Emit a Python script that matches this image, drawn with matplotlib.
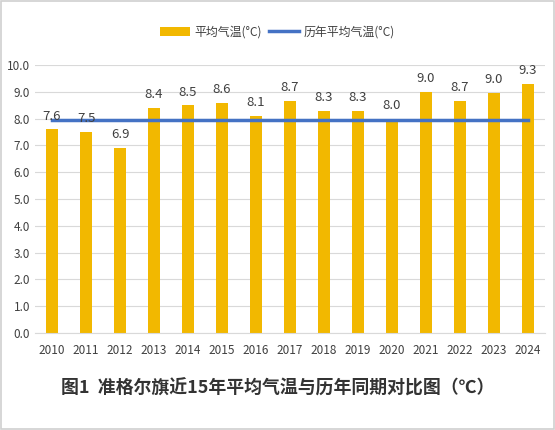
import matplotlib

matplotlib.use("Agg")
import matplotlib.pyplot as plt
from matplotlib.patches import Rectangle

plt.rcParams["font.family"] = ["Noto Sans CJK SC", "DejaVu Sans"]

years = ["2010", "2011", "2012", "2013", "2014", "2015", "2016", "2017",
         "2018", "2019", "2020", "2021", "2022", "2023", "2024"]
avg_temp = [7.6, 7.5, 6.9, 8.4, 8.5, 8.6, 8.1, 8.65, 8.3, 8.3, 8.0, 9.0, 8.65, 8.95, 9.3]
avg_labels = ["7.6", "7.5", "6.9", "8.4", "8.5", "8.6", "8.1", "8.7",
              "8.3", "8.3", "8.0", "9.0", "8.7", "9.0", "9.3"]
normal_temp = [7.93] * len(years)
y_ticks = [0.0, 1.0, 2.0, 3.0, 4.0, 5.0, 6.0, 7.0, 8.0, 9.0, 10.0]

fig = plt.figure(figsize=(5.55, 4.3), dpi=100)
ax = fig.add_axes([35 / 555, 97 / 430, 510 / 555, 268 / 430])

x = list(range(len(years)))
bars = ax.bar(x, avg_temp, width=0.33, color="#f2b800", label="平均气温(°C)", zorder=2)
line, = ax.plot(x, normal_temp, color="#4472c4", linewidth=2.5, label="历年平均气温(°C)", zorder=3)
for xi, v, s in zip(x, avg_temp, avg_labels):
    ax.text(xi, v + 0.25, s, ha="center", va="bottom", fontsize=9.5, color="#404040", zorder=4)

ax.set_xlim(-0.5, len(years) - 0.5)
ax.set_ylim(0, 10)
ax.set_yticks(y_ticks)
ax.set_yticklabels([f"{t:.1f}" for t in y_ticks])
ax.set_xticks(x)
ax.set_xticklabels(years)
ax.tick_params(axis="both", length=0, labelsize=8.5, colors="#404040")
ax.tick_params(axis="x", pad=8)
ax.grid(axis="y", color="#d9d9d9", linewidth=0.8, zorder=0)
for side in ["top", "right", "left"]:
    ax.spines[side].set_visible(False)
ax.spines["bottom"].set_color("#d9d9d9")

fig.legend([bars, line], ["平均气温(°C)", "历年平均气温(°C)"],
           loc="center", bbox_to_anchor=(0.5, 1 - 32 / 430), ncol=2, frameon=False,
           fontsize=8.6, handlelength=2.5, columnspacing=0.6, handletextpad=0.4,
           labelcolor="#404040")

fig.text(0.5, 1 - 388 / 430, "图1  准格尔旗近15年平均气温与历年同期对比图（℃）",
         ha="center", va="center", fontsize=12.9, fontweight="bold", color="#333333")

fig.patches.append(Rectangle((0.002, 0.002), 0.996, 0.996, transform=fig.transFigure,
                             fill=False, edgecolor="#d0d0d0", linewidth=1.2))

fig.savefig("out.png", dpi=100)
plt.close(fig)
